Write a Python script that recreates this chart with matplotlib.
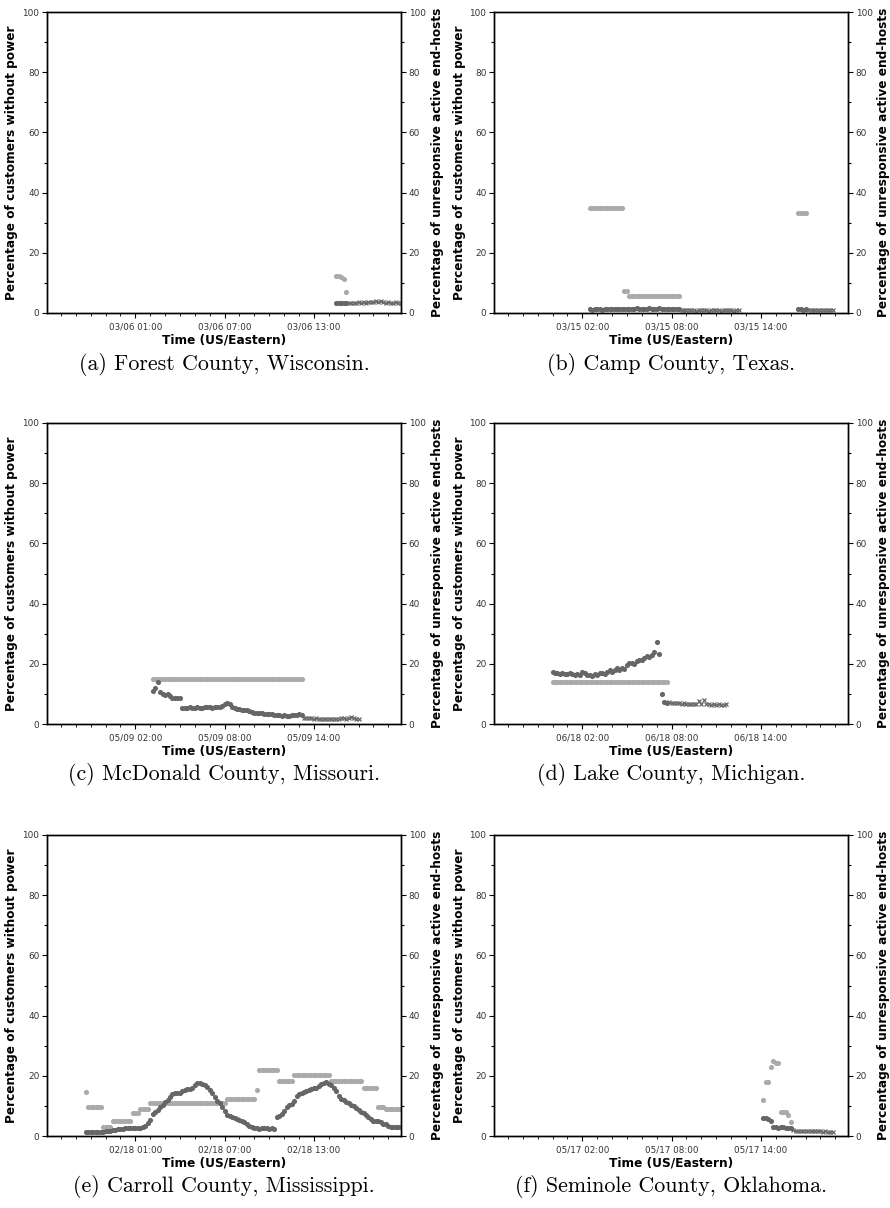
import numpy as np
import pandas as pd
import matplotlib
matplotlib.use("Agg")
import matplotlib.pyplot as plt
import matplotlib.dates as mdates
from matplotlib.ticker import MultipleLocator

W, H = 890, 1208
STEP = "10min"
LIGHT = "#aaaaaa"
DARK = "#666666"

# ---- (a) Forest County, Wisconsin
a_tick = "2018-03-06 01:00"
a_light_start = "2018-03-06 14:30"
a_light_levels = [12.3, 12.1, 11.2, 7.0]
a_light_runs = [2, 1, 1, 1]
a_dark_start = "2018-03-06 14:30"
a_dark = [3.3, 3.2, 3.3, 3.4, 3.3, 3.2, 3.2, 3.3, 3.4, 3.5, 3.3, 3.6, 3.4, 3.8,
          3.7, 3.5, 4.0, 3.6, 3.9, 3.5, 3.3, 3.6, 3.4, 3.2, 3.5, 3.3, 3.2]

# ---- (b) Camp County, Texas
b_tick = "2018-03-15 02:00"
b_light_start = "2018-03-15 02:30"
b_light_levels = [35.0, 7.3, 5.8, np.nan, 33.3]
b_light_runs = [14, 2, 21, 47, 4]
b_dark_start = "2018-03-15 02:30"
b_dark = [1.2, 1.1, 1.2, 1.3, 1.2, 1.1, 1.2, 1.3, 1.2, 1.2, 1.3, 1.4, 1.3, 1.2,
          1.3, 1.4, 1.4, 1.3, 1.4, 1.5, 1.4, 1.3, 1.4, 1.4, 1.5, 1.4, 1.3, 1.4,
          1.5, 1.4, 1.4, 1.3, 1.4, 1.3, 1.2, 1.3, 1.2,
          0.9, 1.0, 0.9, 0.9, 1.0, 0.9, 0.8, 0.9, 1.0, 0.9, 0.9, 0.8, 0.9, 1.0,
          0.9, 0.9, 0.8, 0.9, 0.9, 1.0, 0.9, 0.8, 0.9, 0.9,
          np.nan, np.nan, np.nan, np.nan, np.nan, np.nan, np.nan, np.nan,
          np.nan, np.nan, np.nan, np.nan, np.nan, np.nan, np.nan, np.nan,
          np.nan, np.nan, np.nan, np.nan, np.nan, np.nan, np.nan,
          1.2, 1.2, 1.1, 1.2, 0.9, 1.0, 0.9, 0.9, 1.0, 0.9, 0.9, 1.0, 0.9, 0.9, 1.0]

# ---- (c) McDonald County, Missouri
c_tick = "2018-05-09 02:00"
c_light_start = "2018-05-09 03:10"
c_light_levels = [15.0]
c_light_runs = [61]
c_dark_start = "2018-05-09 03:10"
c_dark = [10.8, 11.9, 13.8, 10.6, 9.9, 9.6, 9.9, 9.3, 8.6, 8.7, 8.6, 8.6,
          5.2, 5.4, 5.3, 5.5, 5.2, 5.3, 5.6, 5.4, 5.2, 5.5, 5.8, 5.6, 5.4, 5.5, 5.7,
          5.7, 6.0, 6.6, 6.9, 6.5, 5.8, 5.4, 5.1, 5.0, 4.8, 4.7, 4.5, 4.3, 4.0,
          3.8, 3.6, 3.5, 3.6, 3.4, 3.3, 3.2, 3.3, 3.1, 3.0, 2.9, 2.8, 2.9, 2.7,
          2.8, 2.9, 3.1, 3.0, 3.2, 3.1,
          2.1, 2.0, 1.9, 2.0, 1.8, 1.9, 1.7, 1.8, 1.6, 1.7, 1.5, 1.6, 1.8, 1.7,
          1.6, 1.9, 2.0, 1.8, 2.1, 2.2, 1.9, 1.8, 1.6]

# ---- (d) Lake County, Michigan
d_tick = "2018-06-18 02:00"
d_light_start = "2018-06-18 00:00"
d_light_levels = [13.9]
d_light_runs = [47]
d_dark_start = "2018-06-18 00:00"
d_dark = [17.4, 17.0, 16.8, 16.6, 17.0, 16.7, 16.5, 16.9, 16.6, 16.3, 16.5, 16.2,
          17.2, 16.8, 16.4, 16.2, 16.0, 16.5, 16.4,
          16.8, 17.0, 16.6, 17.4, 17.8, 17.2, 18.0, 18.5, 17.9, 18.7, 18.4, 19.5,
          20.4, 20.1, 20.0, 20.8, 21.4, 21.2, 22.0, 22.6, 22.3, 23.0, 23.8, 27.4,
          23.3, 9.9, 7.2,
          7.1, 7.2, 7.0, 7.1, 6.9, 7.0, 6.8, 6.9, 6.7, 6.8, 6.6, 6.5, 6.8, 7.7,
          6.6, 7.9, 6.6, 6.5, 6.4, 6.6, 6.3, 6.5, 6.4, 6.3, 6.5]

# ---- (e) Carroll County, Mississippi
e_tick = "2018-02-18 01:00"
e_light_start = "2018-02-17 21:40"
e_light_levels = [14.6, 9.8, 3.1, 5.1, 7.6, 9.0, 10.9, 12.3, 15.3, 22.0, 18.2,
                  20.4, 18.2, 15.9, 9.6, 9.0]
e_light_runs = [1, 6, 4, 8, 3, 4, 31, 12, 1, 8, 6, 15, 13, 6, 3, 7]
e_dark_start = "2018-02-17 21:40"
e_dark = [1.3, 1.3, 1.3, 1.3, 1.4, 1.3, 1.4, 1.4, 1.7, 1.8, 1.8, 1.9, 2.1, 2.2,
          2.2, 2.3, 2.5, 2.6, 2.5, 2.5, 2.6, 2.5, 2.7, 2.9, 3.2, 4.4, 5.4, 7.4,
          8.1, 8.8, 9.7, 10.4, 11.2, 12.0, 13.1, 14.0, 14.3, 14.3, 14.4, 15.1,
          15.4, 15.5, 15.6, 16.0, 16.9, 17.6, 17.6, 17.3, 16.8, 16.2, 15.3, 14.3,
          13.0, 11.7, 11.0, 9.7, 8.2, 7.1, 6.7, 6.3, 5.9, 5.5, 5.2, 5.0, 4.5,
          3.9, 3.3, 3.0, 2.8, 2.6, 2.4, 2.5, 2.7, 2.6, 2.4, 2.5, 2.3, 6.2, 6.8,
          7.4, 8.3, 9.6, 10.4, 10.7, 11.5, 13.2, 14.0, 14.2, 14.7, 15.1, 15.4,
          15.6, 15.8, 16.1, 16.6, 17.2, 17.5, 17.8, 17.4, 16.9, 16.0, 15.0, 13.4,
          12.4, 11.9, 11.4, 10.9, 10.4, 9.9, 9.3, 8.5, 7.9, 7.5, 7.0, 6.2, 5.5,
          5.1, 5.0, 4.9, 4.5, 4.1, 3.9, 3.2, 2.9, 2.9, 2.9, 2.9, 2.9]

# ---- (f) Seminole County, Oklahoma
f_tick = "2018-05-17 02:00"
f_light_start = "2018-05-17 14:10"
f_light_levels = [12.0, 18.0, 22.8, 25.0, 24.1, 8.1, 7.0, 4.8]
f_light_runs = [1, 2, 1, 1, 2, 3, 1, 1]
f_dark_start = "2018-05-17 14:10"
f_dark = [5.9, 5.9, 5.6, 4.9, 3.0, 3.0, 2.8, 3.0, 2.9, 2.8, 2.7, 2.5,
          1.9, 1.8, 1.8, 1.7, 1.8, 1.6, 1.7, 1.6, 1.5, 1.6, 1.5, 1.6, 1.4, 1.5,
          1.4, 1.3, 1.4]

captions = ["(a) Forest County, Wisconsin.", "(b) Camp County, Texas.",
            "(c) McDonald County, Missouri.", "(d) Lake County, Michigan.",
            "(e) Carroll County, Mississippi.", "(f) Seminole County, Oklahoma."]

panels = [
    (a_tick, a_light_start, a_light_levels, a_light_runs, a_dark_start, a_dark),
    (b_tick, b_light_start, b_light_levels, b_light_runs, b_dark_start, b_dark),
    (c_tick, c_light_start, c_light_levels, c_light_runs, c_dark_start, c_dark),
    (d_tick, d_light_start, d_light_levels, d_light_runs, d_dark_start, d_dark),
    (e_tick, e_light_start, e_light_levels, e_light_runs, e_dark_start, e_dark),
    (f_tick, f_light_start, f_light_levels, f_light_runs, f_dark_start, f_dark),
]

# axes boxes in pixels: left, top, width, height
col_left = [47, 494]
row_top = [12, 423, 835]
AX_W, AX_H = 354, 301

fig = plt.figure(figsize=(W / 100, H / 100), dpi=100)


def style_yaxis(ax):
    ax.set_ylim(0, 100)
    ax.yaxis.set_major_locator(MultipleLocator(20))
    ax.yaxis.set_minor_locator(MultipleLocator(10))
    ax.tick_params(axis="y", which="major", length=3.5, width=0.8, pad=2,
                   labelsize=6.4, labelcolor="#333333")
    ax.tick_params(axis="y", which="minor", length=2, width=0.8)


for i, (tick, ls, lv, lr, ds, dv) in enumerate(panels):
    r, c = divmod(i, 2)
    left, top = col_left[c], row_top[r]
    ax = fig.add_axes([left / W, 1 - (top + AX_H) / H, AX_W / W, AX_H / H])
    ax2 = ax.twinx()

    light_vals = np.repeat(np.array(lv, dtype=float), lr)
    light_t = pd.date_range(ls, periods=len(light_vals), freq=STEP)
    dark_vals = np.array(dv, dtype=float)
    dark_t = pd.date_range(ds, periods=len(dark_vals), freq=STEP)

    ax.plot(light_t, light_vals, linestyle="none", marker="o", ms=3.7,
            mew=0, color=LIGHT)

    # host series: dots while an outage is reported, crosses otherwise
    have_light = light_t[~np.isnan(light_vals)]
    during = dark_t.isin(have_light)
    ax2.plot(dark_t[during], dark_vals[during], linestyle="none", marker="o",
             ms=3.7, mew=0, color=DARK)
    ax2.plot(dark_t[~during], dark_vals[~during], linestyle="none", marker="x",
             ms=3.0, mew=0.9, color=DARK)

    t0 = pd.Timestamp(tick) - pd.Timedelta(hours=5.93)
    ax.set_xlim(t0, t0 + pd.Timedelta(hours=23.78))
    first_hour = pd.Timestamp(tick).hour
    ax.xaxis.set_major_locator(mdates.HourLocator(
        byhour=[(first_hour + 6 * k) % 24 for k in range(4)]))
    ax.xaxis.set_minor_locator(mdates.HourLocator())
    ax.xaxis.set_major_formatter(mdates.DateFormatter("%m/%d %H:%M"))
    ax.tick_params(axis="x", which="major", length=3.5, width=0.8, pad=3,
                   labelsize=6.3, labelcolor="#333333")
    ax.tick_params(axis="x", which="minor", length=2, width=0.6)

    style_yaxis(ax)
    style_yaxis(ax2)
    for a in (ax, ax2):
        for s in a.spines.values():
            s.set_linewidth(1.0)

    cx = (left + AX_W / 2) / W
    cy = 1 - (top + AX_H / 2) / H
    bottom = top + AX_H
    fig.text((left - 35) / W, cy, "Percentage of customers without power",
             rotation=90, ha="center", va="center", fontsize=8.7,
             fontweight="bold")
    fig.text((left + 390) / W, cy, "Percentage of unresponsive active end-hosts",
             rotation=90, ha="center", va="center", fontsize=8.7,
             fontweight="bold")
    fig.text(cx, 1 - (bottom + 27) / H, "Time (US/Eastern)", ha="center",
             va="center", fontsize=8.7, fontweight="bold")
    fig.text(cx, 1 - (bottom + 51) / H, captions[i], ha="center", va="center",
             fontsize=15.8, family="cmr10")

fig.savefig("out.png", dpi=100)
